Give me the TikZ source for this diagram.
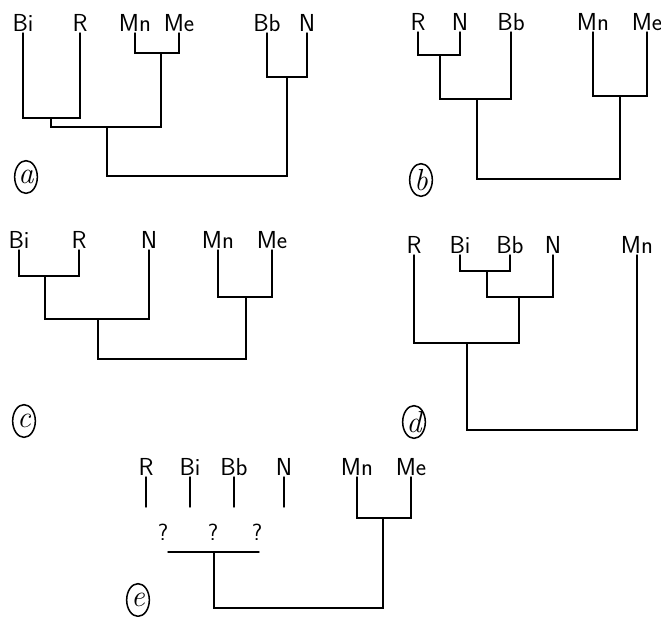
\documentclass[tikz,border=0pt]{standalone}
\usepackage{fontspec}
\usetikzlibrary{shapes.geometric}
\tikzset{
  taxon/.style={anchor=south, inner sep=1pt, font=\sffamily\fontsize{21}{23}\selectfont},
  query/.style={inner sep=0pt, font=\sffamily\fontsize{20}{22}\selectfont},
  tree/.style={line width=1.2pt, line cap=round},
  tag/.style={draw, ellipse, line width=1.3pt, inner sep=0pt, minimum width=0.68cm, minimum height=0.98cm, font=\itshape\fontsize{26}{28}\selectfont}
}
\begin{document}
\begin{tikzpicture}[x=0.03cm, y=-0.03cm]
      \useasboundingbox (0,0) rectangle (661,617);

      % Tree (a)
      \node[taxon] (aBi) at (23,33) {Bi};
      \node[taxon] (aR) at (80,33) {R};
      \node[taxon] (aMn) at (135,33) {Mn};
      \node[taxon] (aMe) at (179,33) {Me};
      \node[taxon] (aBb) at (267,33) {Bb};
      \node[taxon] (aN) at (307,33) {N};
      \coordinate (a1) at (51,118);
      \coordinate (a2) at (161,53);
      \coordinate (a3) at (107,127);
      \coordinate (a4) at (287,77);
      \coordinate (a5) at (200,176);
      \draw[tree] (aBi.south) |- (a1) -| (aR.south);
      \draw[tree] (aMn.south) |- (a2) -| (aMe.south);
      \draw[tree] (a1) |- (a3) -| (a2);
      \draw[tree] (aBb.south) |- (a4) -| (aN.south);
      \draw[tree] (a3) |- (a5) -| (a4);
      \node[tag] (tagA) at (26,177) {a};

      % Tree (b)
      \node[taxon] (bR) at (418,32) {R};
      \node[taxon] (bN) at (460,32) {N};
      \node[taxon] (bBb) at (511,32) {Bb};
      \node[taxon] (bMn) at (593,32) {Mn};
      \node[taxon] (bMe) at (647,32) {Me};
      \coordinate (b1) at (440,55);
      \coordinate (b2) at (477,99);
      \coordinate (b3) at (620,96);
      \coordinate (b4) at (548,179);
      \draw[tree] (bR.south) |- (b1) -| (bN.south);
      \draw[tree] (b1) |- (b2) -| (bBb.south);
      \draw[tree] (bMn.south) |- (b3) -| (bMe.south);
      \draw[tree] (b2) |- (b4) -| (b3);
      \node[tag] (tagB) at (421,180) {b};

      % Tree (c)
      \node[taxon] (cBi) at (19,250) {Bi};
      \node[taxon] (cR) at (79,250) {R};
      \node[taxon] (cN) at (149,250) {N};
      \node[taxon] (cMn) at (218,250) {Mn};
      \node[taxon] (cMe) at (272,250) {Me};
      \coordinate (c1) at (45,276);
      \coordinate (c2) at (98,319);
      \coordinate (c3) at (246,297);
      \coordinate (c4) at (170,359);
      \draw[tree] (cBi.south) |- (c1) -| (cR.south);
      \draw[tree] (c1) |- (c2) -| (cN.south);
      \draw[tree] (cMn.south) |- (c3) -| (cMe.south);
      \draw[tree] (c2) |- (c4) -| (c3);
      \node[tag] (tagC) at (24,421) {c};

      % Tree (d)
      \node[taxon] (dR) at (414,255) {R};
      \node[taxon] (dBi) at (460,255) {Bi};
      \node[taxon] (dBb) at (510,255) {Bb};
      \node[taxon] (dN) at (553,255) {N};
      \node[taxon] (dMn) at (637,255) {Mn};
      \coordinate (d1) at (487,271);
      \coordinate (d2) at (519,297);
      \coordinate (d3) at (467,343);
      \coordinate (d4) at (550,430);
      \draw[tree] (dBi.south) |- (d1) -| (dBb.south);
      \draw[tree] (d1) |- (d2) -| (dN.south);
      \draw[tree] (dR.south) |- (d3) -| (d2);
      \draw[tree] (d3) |- (d4) -| (dMn.south);
      \node[tag] (tagD) at (414,422) {d};

      % Tree (e), unresolved part
      \node[taxon] (eR) at (146,477) {R};
      \node[taxon] (eBi) at (190,477) {Bi};
      \node[taxon] (eBb) at (234,477) {Bb};
      \node[taxon] (eN) at (284,477) {N};
      \node[taxon] (eMn) at (357,477) {Mn};
      \node[taxon] (eMe) at (411,477) {Me};
      \coordinate (eTip) at (0,507);
      \draw[tree] (eR.south) -- (eR.south |- eTip);
      \draw[tree] (eBi.south) -- (eBi.south |- eTip);
      \draw[tree] (eBb.south) -- (eBb.south |- eTip);
      \draw[tree] (eN.south) -- (eN.south |- eTip);
      \node[query] (q1) at (163,532) {?};
      \node[query] (q2) at (213,532) {?};
      \node[query] (q3) at (257,532) {?};
      \coordinate (eL) at (168,552);
      \coordinate (eRt) at (259,552);
      \coordinate (e2) at (214,552);
      \coordinate (e1) at (383,518);
      \coordinate (e3) at (300,608);
      \draw[tree] (eL) -- (eRt);
      \draw[tree] (eMn.south) |- (e1) -| (eMe.south);
      \draw[tree] (e2) |- (e3) -| (e1);
      \node[tag] (tagE) at (138,600) {e};
    \end{tikzpicture}
\end{document}
